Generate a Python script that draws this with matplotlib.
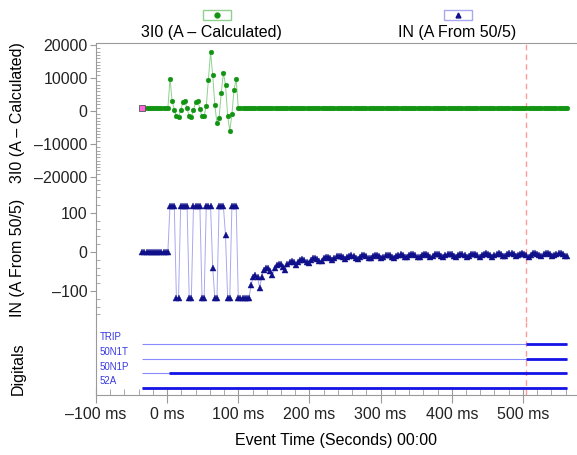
import numpy as np
import matplotlib
matplotlib.use("Agg")
import matplotlib.pyplot as plt
from matplotlib.lines import Line2D
from matplotlib.patches import Rectangle
from matplotlib.ticker import FixedLocator, MultipleLocator, FuncFormatter

plt.rcParams['font.family'] = ['Liberation Sans', 'DejaVu Sans']

# ---- data: one sample every 3 ms from -35 ms to 562 ms ----
t_ms = np.arange(-35, 563, 3)

# 3I0 (A - Calculated)
i3_0 = [
    800, 800, 800, 800, 800, 800, 800, 800, 800, 800, 800, 800, 800,
    9800, 3000, 400, -1500, -1800, 200, 2600, 3000, 800, -1500,
    -1700, 300, 2700, 3000, 700, -1600, -1400, 1500, 9500, 17800,
    11000, 1800, -3700, -2000, 5500, 11500, 8000, -1500, -5900, -1000,
    6500, 9700,
    800, 800, 800, 800, 800, 800, 800, 800, 800, 800, 800, 800, 800, 800, 800, 800, 800, 800, 800, 800,
    800, 800, 800, 800, 800, 800, 800, 800, 800, 800, 800, 800, 800, 800, 800, 800, 800, 800, 800, 800,
    800, 800, 800, 800, 800, 800, 800, 800, 800, 800, 800, 800, 800, 800, 800, 800, 800, 800, 800, 800,
    800, 800, 800, 800, 800, 800, 800, 800, 800, 800, 800, 800, 800, 800, 800, 800, 800, 800, 800, 800,
    800, 800, 800, 800, 800, 800, 800, 800, 800, 800, 800, 800, 800, 800, 800, 800, 800, 800, 800, 800,
    800, 800, 800, 800, 800, 800, 800, 800, 800, 800, 800, 800, 800, 800, 800, 800, 800, 800, 800, 800,
    800, 800, 800, 800, 800, 800, 800, 800, 800, 800, 800, 800, 800, 800, 800, 800, 800, 800, 800, 800,
    800, 800, 800, 800, 800, 800, 800, 800, 800, 800, 800, 800, 800, 800, 800,
]

# IN (A From 50/5)
i_n = [
    0, 0, 0, 0, 0, 0, 0, 0, 0, 0, 0, 0, 0,
    118, 118, 118, -118, -118, 118, 118, 118, 118, -118,
    -118, 118, 118, 118, 118, -118, -118, 118, 118, 118,
    -40, -118, -118, 118, 118, 118, 43, -118, -118, 118,
    118, 118, -118, -118, -118, -118, -118, -118,
    -85, -63, -58, -65, -92, -63, -46, -41, -42, -48,
    -60, -42, -33, -30, -31, -38, -45, -32, -26, -24,
    -26, -34, -25, -20, -19, -21, -26, -29, -20, -16,
    -15, -18, -24, -22, -15, -12, -12, -15, -20, -15,
    -11, -10, -11, -14, -18,
    -14, -10, -9, -11, -15, -17, -12, -9, -8, -11,
    -15, -15, -10, -8, -8, -11, -16, -13, -9, -7,
    -8, -12, -16, -11, -7, -6, -8, -12, -14, -9,
    -6, -6, -8, -13, -12, -7, -5, -6, -9, -14,
    -10, -6, -4, -6, -10, -13, -8, -5, -4, -6,
    -11, -12, -7, -4, -4, -7, -12, -10, -6, -4,
    -5, -8, -13, -9, -5, -3, -5, -9, -12, -7,
    -4, -3, -5, -10, -10, -6, -3, -3, -6, -11,
    -9, -4, -2, -4, -7, -12, -7, -3, -2, -4,
    -8, -11, -6, -3, -2, -5, -10, -9, -5, -2,
    -3, -6, -11, -11,
]
assert len(i3_0) == len(t_ms) and len(i_n) == len(t_ms)

dig_names = ["TRIP", "50N1T", "50N1P", "52A"]
dig_on_ms = [504, 504, 2, -35]
rec_start, rec_end = -35, 562
trip_ms = 504

y1_ticks = [-20000, -10000, 0, 10000, 20000]
y2_ticks = [-100, 0, 100]
x_ticks = [-100, 0, 100, 200, 300, 400, 500]

# ---- layout (pixel based) ----
W, H = 577, 455
fig = plt.figure(figsize=(W / 100, H / 100), dpi=100)
L = 96

def px_axes(top, bot):
    return fig.add_axes([L / W, 1 - bot / H, (W - L) / W, (bot - top) / H])

ax1 = px_axes(43, 186)
ax2 = px_axes(186, 322)
ax3 = px_axes(322, 395)

GRAY = "#9a9a9a"
FS = 11.5
dash = lambda s: s.replace("-", "\u2013")

for ax in (ax1, ax2, ax3):
    ax.set_xlim(-100, 576)
    for s in ax.spines.values():
        s.set_color(GRAY)
    ax.spines["right"].set_visible(False)
    ax.axvline(trip_ms, color="#ff9a9a", lw=1, ls=(0, (4, 3)), zorder=0)
    ax.tick_params(axis="both", which="both", colors=GRAY, labelcolor="#222222", labelsize=FS)

for ax in (ax1, ax2):
    ax.spines["bottom"].set_visible(False)
    ax.tick_params(axis="x", which="both", bottom=False, labelbottom=False)
ax2.spines["top"].set_visible(False)
ax3.spines["top"].set_visible(False)

# 3I0 panel
ax1.plot(t_ms, i3_0, color="#8fd08f", lw=0.7, marker="o", ms=3.4,
         mfc="#129412", mec="#129412", mew=0.3)
ax1.plot(t_ms[0], i3_0[0], "s", ms=3.8, mfc="#ff66dd", mec="#555555", mew=0.6)
ax1.set_ylim(-22700, 20610)
ax1.yaxis.set_major_locator(FixedLocator(y1_ticks))
ax1.yaxis.set_minor_locator(MultipleLocator(1000))

# IN panel
ax2.plot(t_ms, i_n, color="#a8a8f0", lw=0.7, marker="^", ms=4.0,
         mfc="#10108a", mec="#10108a", mew=0.3)
ax2.set_ylim(-179.5, 169)
ax2.yaxis.set_major_locator(FixedLocator(y2_ticks))
ax2.yaxis.set_minor_locator(MultipleLocator(20))

for ax in (ax1, ax2):
    ax.yaxis.set_major_formatter(FuncFormatter(lambda v, p: dash(f"{int(v)}")))
    ax.tick_params(axis="y", which="major", direction="out", length=4.5, pad=1.5)
    ax.tick_params(axis="y", which="minor", direction="in", length=3)

# digitals panel
rows = np.arange(len(dig_names))[::-1]
ax3.hlines(rows, rec_start, rec_end, color="#8a8aff", lw=0.8)
ax3.hlines(rows, dig_on_ms, rec_end, color="#1414e6", lw=2.0)
for r, name in zip(rows, dig_names):
    ax3.text(0.008, r + 0.45, name, transform=ax3.get_yaxis_transform(),
             fontsize=7, color="#3a3ae0", va="center", ha="left")
ax3.set_ylim(-0.48, 4.5)
ax3.set_yticks([])
ax3.xaxis.set_major_locator(FixedLocator(x_ticks))
ax3.xaxis.set_minor_locator(MultipleLocator(20))
ax3.xaxis.set_major_formatter(FuncFormatter(lambda v, p: dash(f"{int(v)} ms")))
ax3.tick_params(axis="x", which="major", direction="inout", length=11, pad=3)
ax3.tick_params(axis="x", which="minor", direction="in", length=4)

# axis titles
def fx(x):
    return x / W

def fy(y):
    return 1 - y / H

fig.text(fx(18), fy(113), "3I0 (A \u2013 Calculated)", rotation=90, ha="center", va="center", fontsize=FS)
fig.text(fx(18), fy(258), "IN (A From 50/5)", rotation=90, ha="center", va="center", fontsize=FS)
fig.text(fx(18), fy(369), "Digitals", rotation=90, ha="center", va="center", fontsize=FS)
fig.text(fx(336), fy(440), "Event Time (Seconds) 00:00", ha="center", va="center", fontsize=FS)

# series headers above the plot
headers = [("3I0 (A \u2013 Calculated)", 211.7, 216.7, "#8fd08f", "o", "#129412"),
           ("IN (A From 50/5)", 456.7, 457.7, "#a8a8f0", "^", "#10108a")]
for label, tx, bx, ec, mk, mc in headers:
    fig.add_artist(Rectangle((fx(bx - 14), fy(20)), 28 / W, 10 / H, transform=fig.transFigure,
                             fc="white", ec=ec, lw=1))
    fig.add_artist(Line2D([fx(bx)], [fy(15.3)], transform=fig.transFigure, marker=mk,
                          ms=3.5, mfc=mc, mec=mc, ls="none"))
    fig.text(fx(tx), fy(32), label, ha="center", va="center", fontsize=FS,
             bbox=dict(fc="white", ec="none", pad=0.5))

fig.savefig("out.png", dpi=100, facecolor="white")
